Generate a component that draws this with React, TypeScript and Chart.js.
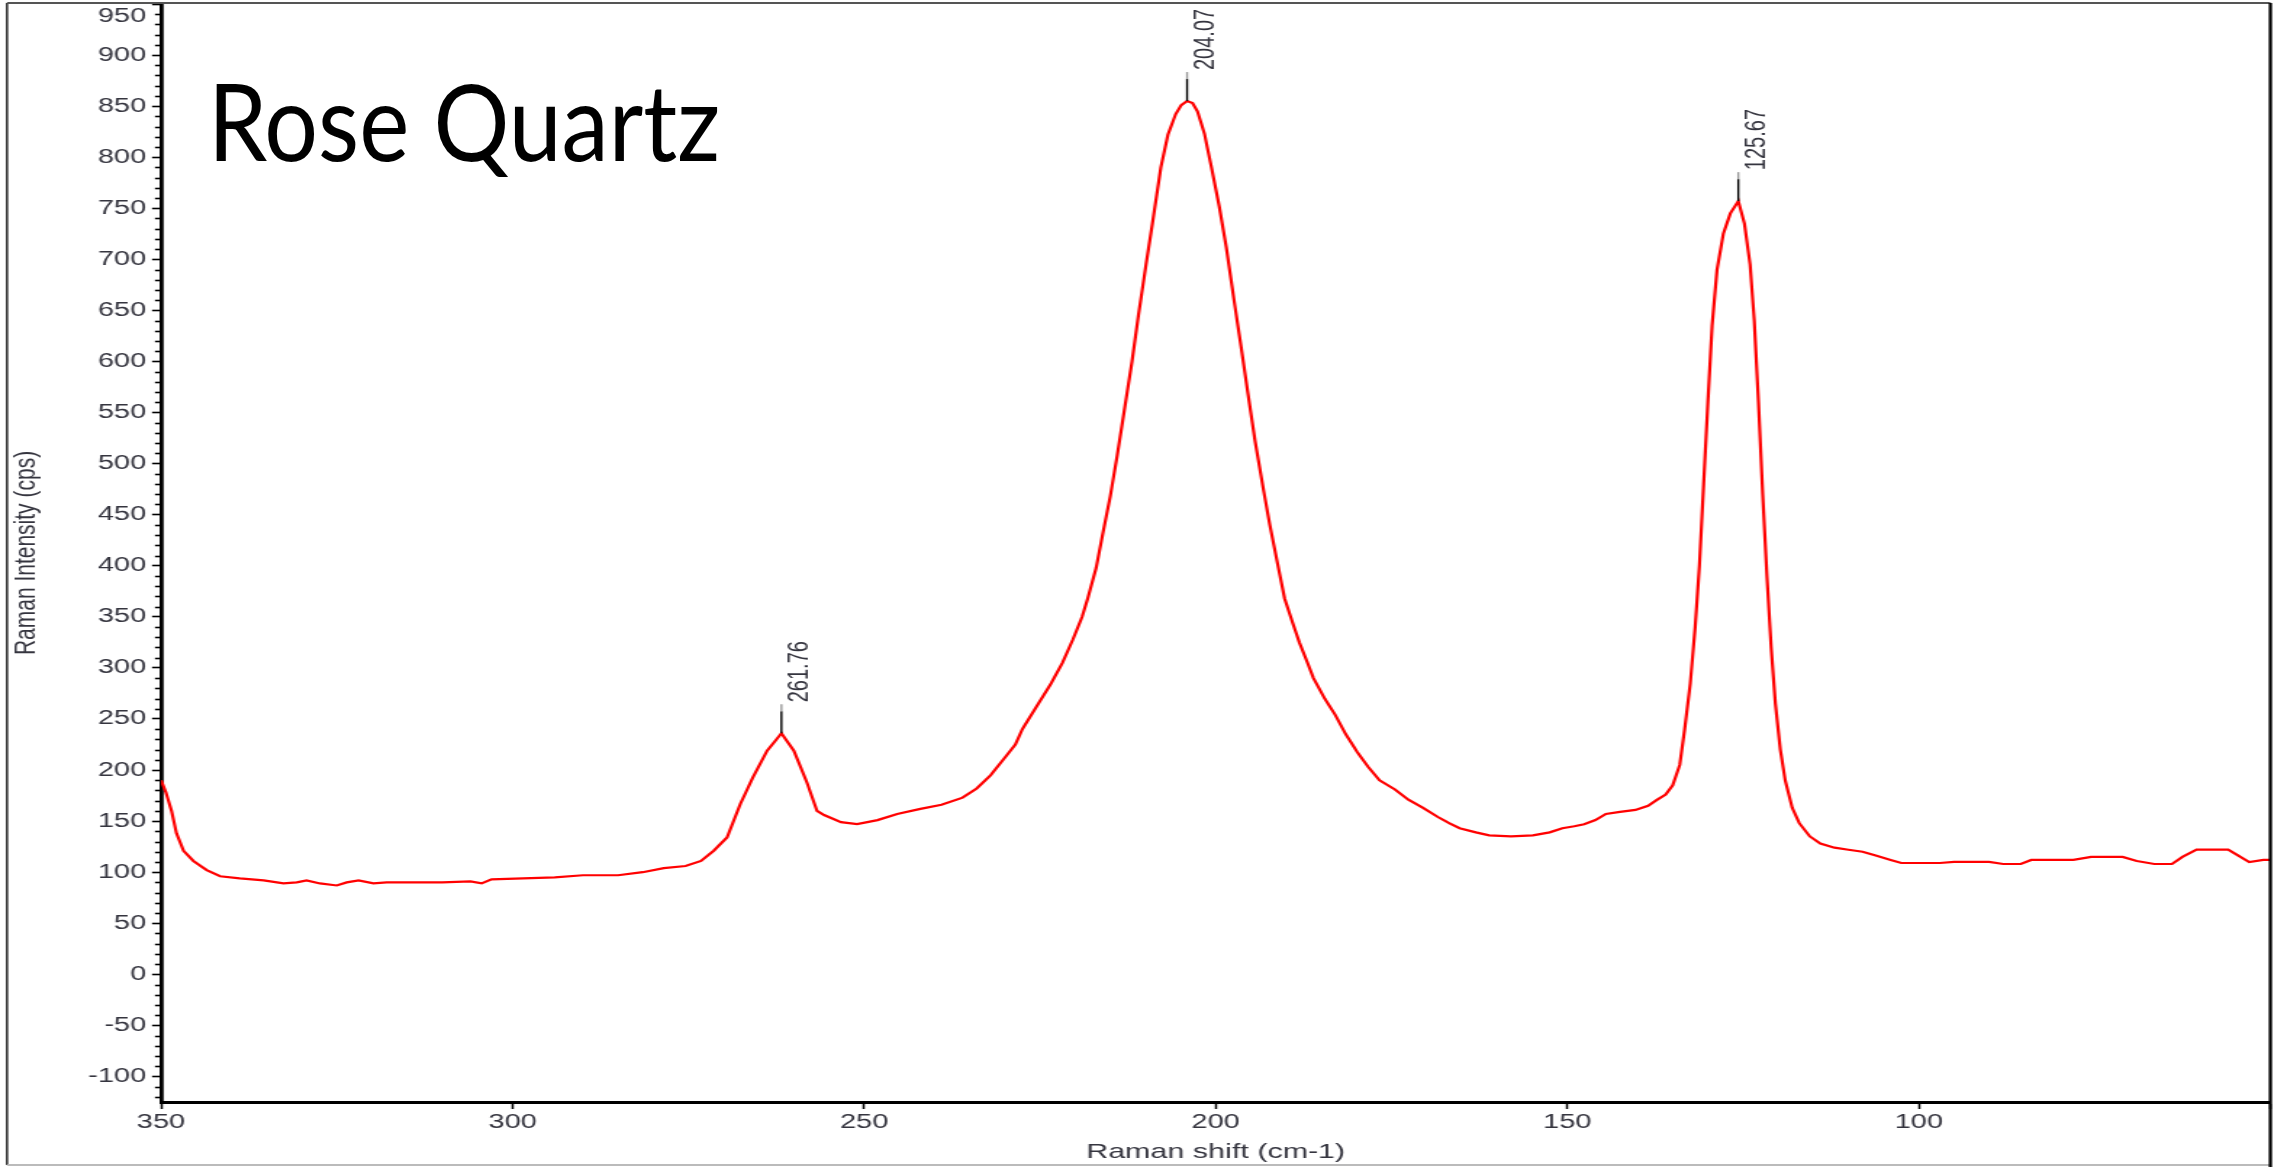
import React, { useEffect, useLayoutEffect, useRef } from 'react';
import { Chart, registerables } from 'chart.js';

Chart.register(...registerables);

// ---------------- data ----------------
const ramanShift = [
  350, 349.3, 348.5, 347.8, 346.8, 345.4, 343.5, 341.6, 338.8, 335.4, 332.6, 330.7, 329.3, 327.4, 325.0,
  323.6, 321.9, 319.8, 317.9, 310, 306, 304.4, 303, 294, 290, 285, 281.5, 278.5, 275.4, 273.2,
  271.4, 269.5, 267.6, 265.8, 263.8, 261.76, 260, 258.1, 256.7, 255.7, 253.3, 251, 248.1, 245.3,
  242, 239, 236, 234, 232, 230, 228.5, 227.5, 225.5, 223.4, 221.8, 220.3, 219, 218.2, 217, 216.1,
  215, 214, 213, 211.9, 211, 209.9, 209, 207.8, 206.8, 205.7, 204.9, 204.07, 203.3, 202.6, 201.6,
  200.6, 199.5, 198.5, 197.5, 196.4, 195.4, 194.4, 193.3, 192.3, 191.2, 190.2, 189.1, 188.1, 187,
  186.1, 184.5, 183, 181.5, 179.9, 178.3, 176.7, 174.5, 172.6, 170.5, 168.4, 166.8, 165.3, 163,
  161.1, 158, 154.9, 152.5, 150.7, 149, 147.6, 146, 144.5, 142.5, 140.3, 138.5, 137.2, 136, 135,
  134, 133.3, 132.5, 131.8, 131.2, 130.6, 130, 129.4, 128.7, 127.8, 126.8, 125.67, 124.8, 124,
  123.4, 122.8, 122.2, 121.6, 121, 120.4, 119.7, 119, 118, 117, 115.5, 114, 112, 110, 108, 106,
  104, 102.5, 100, 97, 95, 90, 88, 85.5, 84, 78, 75.5, 71, 69, 66.5, 64, 62.5, 60.5, 56, 54.5, 53,
  51, 50,
];
const intensity = [
  190, 178, 160, 138, 121, 111, 102, 96, 94, 92, 89, 90, 92, 89, 87,
  90, 92, 89, 90, 90, 91, 89, 93, 95, 97, 97, 100, 104, 106, 111,
  121, 134, 167, 193, 219, 236, 219, 187, 160, 156, 149, 147, 151, 157,
  162, 166, 173, 182, 195, 212, 225, 240, 262, 285, 305, 328, 350, 368, 398, 430,
  468, 508, 552, 600, 645, 695, 735, 790, 822, 842, 851, 855, 853, 845, 823,
  790, 752, 712, 665, 615, 568, 522, 478, 440, 402, 368, 345, 325, 306,
  290, 270, 254, 235, 218, 203, 190, 181, 171, 163, 154, 148, 143, 139,
  136, 135, 136, 139, 143, 145, 147, 151, 157, 159, 161, 165, 171, 176, 185,
  205, 240, 285, 340, 400, 480, 560, 635, 690, 725, 745, 757, 735, 695,
  640, 560, 470, 390, 320, 265, 220, 190, 163, 148, 135, 128, 124, 122, 120, 116,
  112, 109, 109, 109, 110, 110, 108, 108, 112, 112, 115, 115, 111, 108, 108, 115, 122, 122, 116, 110,
  112, 112,
];
const peakShifts = [261.76, 204.07, 125.67];
const peakLabels = ['261.76', '204.07', '125.67'];
const xTickValues = [350, 300, 250, 200, 150, 100, 50];
const yTickValues = [-100, -50, 0, 50, 100, 150, 200, 250, 300, 350, 400, 450, 500, 550, 600, 650, 700, 750, 800, 850, 900, 950];
const chartTitle = 'Rose Quartz';
const xAxisTitle = 'Raman shift (cm-1)';
const yAxisTitle = 'Raman Intensity (cps)';

// ---------------- layout ----------------
const W = 2287;
const H = 1167;
const SX = 1.45; // horizontal stretch of the original screenshot
const CW = Math.round(W / SX);
const AREA_LEFT = 161 / SX;
const AREA_RIGHT = 2270 / SX;
const AREA_TOP = 4;
const AREA_BOTTOM = 1102;
const TEXT = '#35353f';
const FONT = '"Liberation Sans", Arial, sans-serif';

const framePlugin = {
  id: 'frame',
  afterDraw(chart: any) {
    const { ctx, chartArea, scales } = chart;
    const y = scales.y;
    ctx.save();
    // minor y ticks
    ctx.strokeStyle = '#000';
    ctx.lineWidth = 1.6;
    for (let v = -120; v <= 940; v += 10) {
      if (v % 50 === 0) continue;
      const py = Math.round(y.getPixelForValue(v)) + 0.5;
      ctx.beginPath();
      ctx.moveTo(chartArea.left - 4.2, py);
      ctx.lineTo(chartArea.left, py);
      ctx.stroke();
    }
    // outer frame
    ctx.lineWidth = 1.5;
    ctx.strokeStyle = '#222';
    ctx.beginPath();
    ctx.moveTo(7 / SX, 3);
    ctx.lineTo(7 / SX, 1165);
    ctx.stroke();
    ctx.strokeStyle = '#555';
    ctx.lineWidth = 2;
    ctx.beginPath();
    ctx.moveTo(7 / SX, 3);
    ctx.lineTo(chartArea.right, 3);
    ctx.stroke();
    ctx.strokeStyle = '#bbb';
    ctx.beginPath();
    ctx.moveTo(7 / SX, 1165);
    ctx.lineTo(chartArea.right, 1165);
    ctx.stroke();
    ctx.strokeStyle = '#000';
    ctx.lineWidth = 2.3;
    ctx.beginPath();
    ctx.moveTo(chartArea.right, 3);
    ctx.lineTo(chartArea.right, H);
    ctx.stroke();
    ctx.restore();
  },
};

const peakPlugin = {
  id: 'peaks',
  afterDatasetsDraw(chart: any) {
    const { ctx, scales } = chart;
    const x = scales.x;
    const y = scales.y;
    ctx.save();
    peakShifts.forEach((p, i) => {
      const idx = ramanShift.indexOf(p);
      const px = x.getPixelForValue(p);
      const py = y.getPixelForValue(intensity[idx]);
      ctx.lineWidth = 1.4;
      ctx.strokeStyle = '#000';
      ctx.beginPath();
      ctx.moveTo(px, py);
      ctx.lineTo(px, py - 22);
      ctx.stroke();
      ctx.strokeStyle = '#9a9a9a';
      ctx.beginPath();
      ctx.moveTo(px, py - 22);
      ctx.lineTo(px, py - 29);
      ctx.stroke();
      ctx.translate(px + 12.5, py - 31);
      ctx.rotate(-Math.PI / 2);
      ctx.fillStyle = TEXT;
      ctx.font = `20px ${FONT}`;
      ctx.textAlign = 'left';
      ctx.textBaseline = 'middle';
      ctx.fillText(peakLabels[i], 0, 0);
      ctx.setTransform(1, 0, 0, 1, 0, 0);
    });
    ctx.restore();
  },
};

export default function App() {
  const canvasRef = useRef<HTMLCanvasElement | null>(null);
  const titleRef = useRef<HTMLSpanElement | null>(null);

  useLayoutEffect(() => {
    const el = titleRef.current;
    if (!el) return;
    el.style.transform = 'none';
    const w = el.getBoundingClientRect().width;
    if (w > 0) el.style.transform = `scaleX(${512 / w})`;
  }, []);

  useEffect(() => {
    const canvas = canvasRef.current;
    if (!canvas) return;
    const points = ramanShift.map((s, i) => ({ x: s, y: intensity[i] }));
    const chart = new Chart(canvas, {
      type: 'line',
      data: {
        datasets: [
          {
            data: points,
            borderColor: '#ff0000',
            borderWidth: 2.2,
            pointRadius: 0,
            tension: 0,
            fill: false,
          },
        ],
      },
      options: {
        animation: false,
        responsive: false,
        devicePixelRatio: 1,
        events: [],
        layout: { padding: { left: 0, right: CW - AREA_RIGHT, top: AREA_TOP, bottom: 0 } },
        plugins: { legend: { display: false }, tooltip: { enabled: false }, title: { display: false } },
        scales: {
          x: {
            type: 'linear',
            min: 50,
            max: 350,
            reverse: true,
            afterBuildTicks: (scale: any) => {
              scale.ticks = xTickValues.map((v) => ({ value: v }));
            },
            afterFit: (scale: any) => {
              scale.height = H - AREA_BOTTOM;
              scale.paddingLeft = 0;
              scale.paddingRight = 0;
            },
            ticks: {
              autoSkip: false,
              maxRotation: 0,
              padding: 1,
              color: TEXT,
              font: { family: FONT, size: 20 },
              callback: (v: any) => (v === 50 ? '' : String(v)),
            },
            grid: {
              display: true,
              drawOnChartArea: false,
              drawTicks: true,
              tickLength: 7,
              tickWidth: 1.5,
              tickColor: '#000',
            },
            border: { display: true, color: '#000', width: 3 },
            title: {
              display: true,
              text: xAxisTitle,
              color: TEXT,
              font: { family: FONT, size: 21 },
              padding: { top: 0, bottom: 2 },
            },
          },
          y: {
            type: 'linear',
            min: -125,
            max: 950,
            afterBuildTicks: (scale: any) => {
              scale.ticks = yTickValues.map((v) => ({ value: v }));
            },
            afterFit: (scale: any) => {
              scale.width = AREA_LEFT;
              scale.paddingTop = 0;
              scale.paddingBottom = 0;
            },
            ticks: {
              autoSkip: false,
              padding: 4,
              color: TEXT,
              font: { family: FONT, size: 20 },
              callback: (v: any) => (v === 950 ? ['', '950'] : String(v)),
            },
            grid: {
              display: true,
              drawOnChartArea: false,
              drawTicks: true,
              tickLength: 6.2,
              tickWidth: 1.6,
              tickColor: '#000',
            },
            border: { display: true, color: '#000', width: 2.8 },
            title: {
              display: true,
              text: yAxisTitle,
              color: TEXT,
              font: { family: FONT, size: 21 },
              padding: { top: 5.3, bottom: 0 },
            },
          },
        },
      },
      plugins: [framePlugin, peakPlugin],
    });
    return () => chart.destroy();
  }, []);

  return (
    <div
      style={{
        position: 'absolute',
        left: 0,
        top: 0,
        width: W,
        height: H,
        background: '#fff',
        overflow: 'hidden',
      }}
    >
      <canvas
        ref={canvasRef}
        width={CW}
        height={H}
        style={{ position: 'absolute', left: 0, top: 0, width: `${W}px`, height: `${H}px`, display: 'block' }}
      />
      <span
        ref={titleRef}
        style={{
          position: 'absolute',
          left: 208,
          top: 67,
          fontFamily: 'Lato, "Open Sans", sans-serif',
          fontSize: 106,
          lineHeight: 1,
          color: '#000',
          whiteSpace: 'nowrap',
          transformOrigin: 'left top',
          display: 'inline-block',
        }}
      >
        {chartTitle}
      </span>
    </div>
  );
}
